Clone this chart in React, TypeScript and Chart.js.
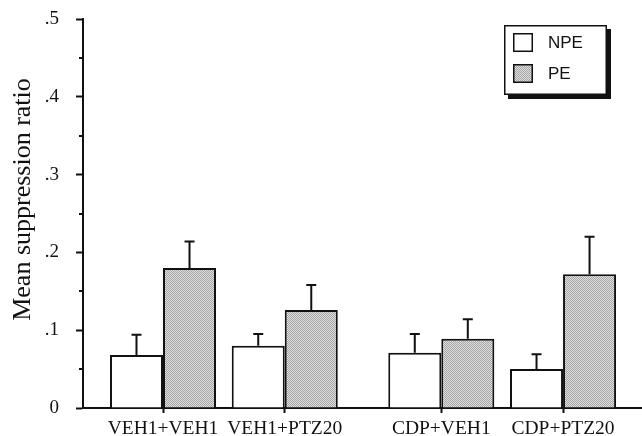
import React, { useEffect, useRef } from 'react';
import { Chart, registerables } from 'chart.js';

Chart.register(...registerables);

const groups = ['VEH1+VEH1', 'VEH1+PTZ20', 'CDP+VEH1', 'CDP+PTZ20'];
const groupPositions = [0, 7, 16, 23];
const seriesNames = ['NPE', 'PE'];
const npeValues = [0.068, 0.080, 0.071, 0.050];
const npeErrors = [0.026, 0.015, 0.024, 0.019];
const peValues = [0.180, 0.126, 0.089, 0.172];
const peErrors = [0.034, 0.032, 0.025, 0.048];
const yTickLabels = ['0', '.1', '.2', '.3', '.4', '.5'];
const yMinorTicks = [0.05, 0.15, 0.25, 0.35, 0.45];
const yTitle = 'Mean suppression ratio';

const INK = '#111111';
const SERIF = '"Liberation Serif", "Times New Roman", serif';

function makePattern(): CanvasPattern | string {
  const c = document.createElement('canvas');
  c.width = 2;
  c.height = 2;
  const g = c.getContext('2d');
  if (!g) return '#c0c0c0';
  g.fillStyle = '#dedede';
  g.fillRect(0, 0, 2, 2);
  g.fillStyle = '#a6a6a6';
  g.fillRect(0, 0, 1, 1);
  g.fillRect(1, 1, 1, 1);
  const p = g.createPattern(c, 'repeat');
  return p || '#c0c0c0';
}

export default function App() {
  const ref = useRef<HTMLCanvasElement | null>(null);

  useEffect(() => {
    const canvas = ref.current;
    if (!canvas) return;
    const pattern = makePattern();
    const fills = ['#ffffff', pattern];
    const errors = [npeErrors, peErrors];

    const errorBars = {
      id: 'errorBars',
      afterDatasetsDraw(chart: any) {
        const ctx = chart.ctx;
        const yScale = chart.scales.y;
        ctx.save();
        ctx.strokeStyle = INK;
        ctx.lineWidth = 2;
        chart.data.datasets.forEach((ds: any, i: number) => {
          const meta = chart.getDatasetMeta(i);
          meta.data.forEach((bar: any, j: number) => {
            const v = ds.data[j].y;
            const top = yScale.getPixelForValue(v + errors[i][j]);
            ctx.beginPath();
            ctx.moveTo(bar.x, bar.y);
            ctx.lineTo(bar.x, top);
            ctx.moveTo(bar.x - 5, top);
            ctx.lineTo(bar.x + 5, top);
            ctx.stroke();
          });
        });
        ctx.restore();
      },
    };

    const axisExtras = {
      id: 'axisExtras',
      afterDraw(chart: any) {
        const ctx = chart.ctx;
        const y = chart.scales.y;
        ctx.save();
        ctx.strokeStyle = INK;
        ctx.lineWidth = 2;
        yMinorTicks.forEach((v) => {
          const py = Math.round(y.getPixelForValue(v));
          ctx.beginPath();
          ctx.moveTo(y.right - 4, py);
          ctx.lineTo(y.right, py);
          ctx.stroke();
        });
        // rotated axis title
        ctx.translate(23, (chart.chartArea.top + chart.chartArea.bottom) / 2 - 14);
        ctx.rotate(-Math.PI / 2);
        ctx.font = `26px ${SERIF}`;
        ctx.fillStyle = INK;
        ctx.textAlign = 'center';
        ctx.textBaseline = 'middle';
        ctx.fillText(yTitle, 0, 0);
        ctx.restore();
      },
    };

    const boxLegend = {
      id: 'boxLegend',
      afterDraw(chart: any) {
        const ctx = chart.ctx;
        const x0 = chart.chartArea.right - 138;
        const y0 = chart.chartArea.top + 6;
        const w = 103;
        const h = 70;
        ctx.save();
        ctx.fillStyle = INK;
        ctx.fillRect(x0 + 4, y0 + 4, w, h);
        ctx.fillStyle = '#ffffff';
        ctx.fillRect(x0, y0, w, h);
        ctx.strokeStyle = INK;
        ctx.lineWidth = 1.5;
        ctx.strokeRect(x0 + 0.75, y0 + 0.75, w - 1.5, h - 1.5);
        ctx.font = '17px "Liberation Sans", Arial, sans-serif';
        ctx.textBaseline = 'middle';
        chart.data.datasets.forEach((ds: any, i: number) => {
          const sy = y0 + 8 + i * 31;
          ctx.fillStyle = ds.backgroundColor;
          ctx.fillRect(x0 + 9, sy, 20, 19);
          ctx.strokeStyle = INK;
          ctx.lineWidth = 1.5;
          ctx.strokeRect(x0 + 9.75, sy + 0.75, 18.5, 17.5);
          ctx.fillStyle = INK;
          ctx.fillText(ds.label, x0 + 44, sy + 10);
        });
        ctx.restore();
      },
    };

    const chart = new Chart(canvas, {
      type: 'bar',
      data: {
        datasets: [npeValues, peValues].map((vals, i) => ({
          label: seriesNames[i],
          data: vals.map((v, j) => ({ x: groupPositions[j], y: v })),
          backgroundColor: fills[i] as any,
          borderColor: INK,
          borderWidth: 2,
          categoryPercentage: 0.871,
          barPercentage: 1,
        })),
      },
      options: {
        responsive: false,
        animation: false,
        layout: { padding: { top: 19, right: 0, left: 0, bottom: 0 } },
        plugins: { legend: { display: false }, tooltip: { enabled: false } },
        scales: {
          x: {
            type: 'linear',
            min: -4.6,
            max: 27.54,
            offset: false,
            afterBuildTicks: (s: any) => {
              s.ticks = groupPositions.map((v) => ({ value: v }));
            },
            afterFit: (s: any) => {
              s.height = 28;
              s.paddingLeft = 0;
              s.paddingRight = 0;
            },
            ticks: {
              autoSkip: false,
              maxRotation: 0,
              padding: 4,
              color: INK,
              font: { family: SERIF, size: 19.5 },
              callback: (_v: any, i: number) => groups[i],
            },
            grid: { offset: false, drawOnChartArea: false, tickLength: 5, tickWidth: 2, tickColor: INK },
            border: { color: INK, width: 2 },
          },
          y: {
            min: 0,
            max: 0.5,
            afterFit: (s: any) => {
              s.width = 83;
              s.paddingTop = 0;
              s.paddingBottom = 0;
            },
            ticks: {
              stepSize: 0.1,
              padding: 17,
              color: INK,
              font: { family: SERIF, size: 19 },
              callback: (_v: any, i: number) => yTickLabels[i],
            },
            grid: { drawOnChartArea: false, tickLength: 7, tickWidth: 2, tickColor: INK },
            border: { color: INK, width: 2 },
            title: { display: false },
          },
        },
      },
      plugins: [errorBars, axisExtras, boxLegend],
    } as any);

    return () => chart.destroy();
  }, []);

  return (
    <div style={{ position: 'fixed', left: 0, top: 0, width: 642, height: 436, background: '#ffffff' }}>
      <canvas ref={ref} width={642} height={436} style={{ display: 'block' }} />
    </div>
  );
}
